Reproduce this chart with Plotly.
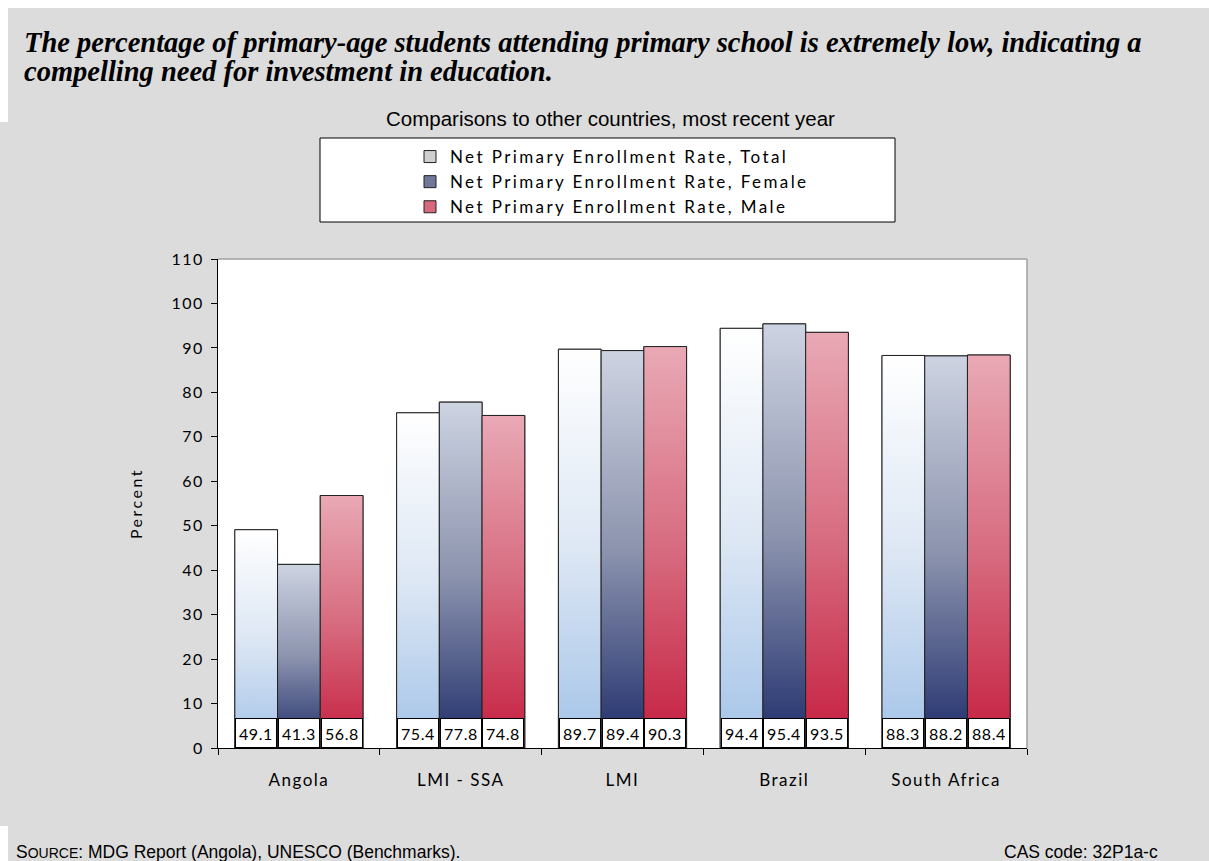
import plotly.graph_objects as go

# ---- data ----
categories = ["Angola", "LMI - SSA", "LMI", "Brazil", "South Africa"]
total = [49.1, 75.4, 89.7, 94.4, 88.3]
female = [41.3, 77.8, 89.4, 95.4, 88.2]
male = [56.8, 74.8, 90.3, 93.5, 88.4]
series_names = [
    "Net Primary Enrollment Rate, Total",
    "Net Primary Enrollment Rate, Female",
    "Net Primary Enrollment Rate, Male",
]
y_ticks = list(range(0, 111, 10))

# ---- styles ----
GILL = "Lato, 'Open Sans', sans-serif"
ARIAL = "'Liberation Sans', Arial, sans-serif"
SERIF = "'Liberation Serif', 'Times New Roman', serif"


def spaced(txt, px):
    return f"<span style='letter-spacing:{px}px'>{txt}</span>"


gradients = [
    [[0, "#a3c3e8"], [0.5, "#dde7f4"], [1, "#ffffff"]],
    [[0, "#1f2d6b"], [0.5, "#8c94ae"], [1, "#cdd3e1"]],
    [[0, "#c51e3e"], [0.5, "#d76c80"], [1, "#e9a9b5"]],
]
legend_colors = ["#cfcfcf", "#6f7898", "#d8687c"]
BAR_W = 0.264
offsets = [-BAR_W, 0.0, BAR_W]

fig = go.Figure()
xs = list(range(len(categories)))
all_series = [total, female, male]

# base bars (legend + structure)
for k, (name, vals) in enumerate(zip(series_names, all_series)):
    fig.add_trace(go.Bar(
        x=xs, y=vals, name=spaced(name, 2.4),
        marker=dict(color=legend_colors[k], line=dict(color="#222222", width=1)),
        hoverinfo="skip",
    ))

# gradient overlays per bar
for k, vals in enumerate(all_series):
    for i, v in enumerate(vals):
        x0 = i + offsets[k] - BAR_W / 2
        x1 = i + offsets[k] + BAR_W / 2
        fig.add_trace(go.Scatter(
            x=[x0, x0, x1, x1, x0], y=[0, v, v, 0, 0],
            mode="lines", fill="toself",
            line=dict(color="#222222", width=1),
            fillgradient=dict(type="vertical", colorscale=gradients[k], start=0, stop=v),
            showlegend=False, hoverinfo="skip",
        ))

# value label boxes
annotations = []
for k, vals in enumerate(all_series):
    for i, v in enumerate(vals):
        annotations.append(dict(
            x=i + offsets[k], y=0, xref="x", yref="y",
            text=spaced(f"{v:.1f}", 0.6), showarrow=False,
            xanchor="center", yanchor="bottom",
            width=38, height=26, borderpad=1, borderwidth=1,
            bordercolor="#000000", bgcolor="#ffffff",
            font=dict(family=GILL, size=16, color="#000000"),
        ))


def px_x(px):
    return (px - 218) / 809


def px_y(py):
    return (748 - py) / 489


annotations += [
    dict(text="<b><i>The percentage of primary-age students attending primary school is extremely low, indicating a</i></b>",
         xref="paper", yref="paper", x=px_x(22), y=px_y(42),
         xanchor="left", yanchor="middle", showarrow=False,
         font=dict(family=SERIF, size=28.5, color="#000000")),
    dict(text="<b><i>compelling need for investment in education.</i></b>",
         xref="paper", yref="paper", x=px_x(22), y=px_y(72),
         xanchor="left", yanchor="middle", showarrow=False,
         font=dict(family=SERIF, size=28.5, color="#000000")),
    dict(text="Comparisons to other countries, most recent year",
         xref="paper", yref="paper", x=px_x(610), y=px_y(118),
         xanchor="center", yanchor="middle", showarrow=False,
         font=dict(family=ARIAL, size=20.5, color="#000000")),
    dict(text="S<span style='font-size:14px'>OURCE</span>: MDG Report (Angola), UNESCO (Benchmarks).",
         xref="paper", yref="paper", x=px_x(14), y=px_y(852),
         xanchor="left", yanchor="middle", showarrow=False,
         font=dict(family=ARIAL, size=17.5, color="#000000")),
    dict(text="CAS code: 32P1a-c",
         xref="paper", yref="paper", x=px_x(1160), y=px_y(852),
         xanchor="right", yanchor="middle", showarrow=False,
         font=dict(family=ARIAL, size=17.5, color="#000000")),
]

shapes = [
    # white edge strips
    dict(type="rect", xref="paper", yref="paper", layer="below",
         x0=px_x(0), x1=px_x(1209), y0=px_y(8), y1=px_y(-2),
         fillcolor="#ffffff", line=dict(width=0)),
    dict(type="rect", xref="paper", yref="paper", layer="below",
         x0=px_x(-2), x1=px_x(8), y0=px_y(122), y1=px_y(0),
         fillcolor="#ffffff", line=dict(width=0)),
    dict(type="rect", xref="paper", yref="paper", layer="below",
         x0=px_x(-2), x1=px_x(8), y0=px_y(863), y1=px_y(826),
         fillcolor="#ffffff", line=dict(width=0)),
    # legend box
    dict(type="rect", xref="paper", yref="paper", layer="below",
         x0=px_x(320), x1=px_x(895), y0=px_y(222), y1=px_y(138),
         fillcolor="#ffffff", line=dict(color="#000000", width=1)),
    # top and right plot border
    dict(type="line", xref="paper", yref="paper", x0=0, x1=1, y0=1, y1=1,
         line=dict(color="#a0a0a0", width=1.5)),
    dict(type="line", xref="paper", yref="paper", x0=1, x1=1, y0=0, y1=1,
         line=dict(color="#a0a0a0", width=1.5)),
]

fig.update_layout(
    width=1209, height=861,
    margin=dict(l=218, r=182, t=259, b=113),
    paper_bgcolor="#dcdcdc", plot_bgcolor="#ffffff",
    barmode="group", bargap=0.208, bargroupgap=0,
    legend=dict(
        x=px_x(410), xanchor="left", y=px_y(139), yanchor="top",
        bgcolor="rgba(0,0,0,0)", borderwidth=0,
        font=dict(family=GILL, size=17, color="#000000"),
        traceorder="normal",
    ),
    xaxis=dict(
        range=[-0.5, 4.5], tickvals=[-0.5, 0.5, 1.5, 2.5, 3.5, 4.5],
        ticktext=[""] * 6, ticks="outside", ticklen=6, tickcolor="#000000",
        showline=True, linecolor="#000000", linewidth=1,
        showgrid=False, zeroline=False, fixedrange=True,
    ),
    xaxis2=dict(
        overlaying="x", anchor="y", side="bottom",
        range=[-0.5, 4.5], tickvals=xs, ticktext=[spaced(c, 1.5) for c in categories],
        ticks="", showline=False, showgrid=False, zeroline=False,
        ticklabelstandoff=20,
        tickfont=dict(family=GILL, size=17, color="#000000"),
    ),
    yaxis=dict(
        range=[0, 110], tickvals=y_ticks, ticktext=[spaced(str(t), 1.5) for t in y_ticks],
        ticks="outside", ticklen=6, ticklabelstandoff=4,
        tickcolor="#000000", showline=True, linecolor="#000000", linewidth=1,
        showgrid=False, zeroline=False,
        tickfont=dict(family=GILL, size=16, color="#000000"),
        title=dict(text=spaced("Percent", 2.5), font=dict(family=GILL, size=16, color="#000000"), standoff=24),
    ),
    annotations=annotations,
    shapes=shapes,
)

# invisible trace to activate the category label axis
fig.add_trace(go.Scatter(x=[None], y=[None], xaxis="x2", yaxis="y", showlegend=False, hoverinfo="skip"))

fig.write_html(
    "out.html",
    config={"displayModeBar": False},
    post_script="document.body.style.margin='0px';document.body.style.overflow='hidden';",
)
